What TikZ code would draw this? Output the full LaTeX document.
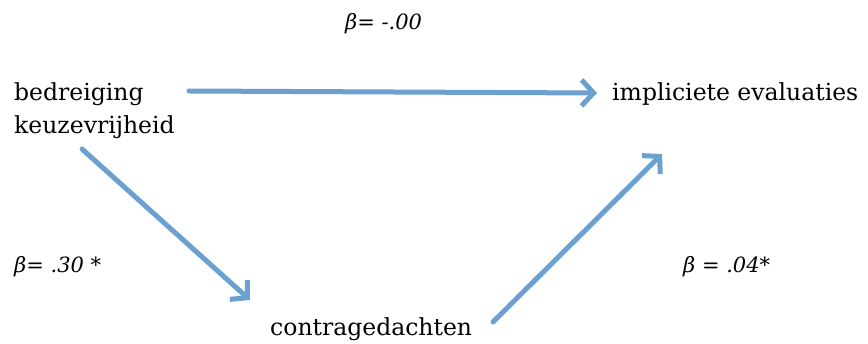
\documentclass[tikz,border=0pt]{standalone}
\usepackage{fontspec}
\setmainfont{DejaVu Serif}
\usetikzlibrary{arrows.meta}
\definecolor{arrowblue}{RGB}{108,160,206}
\tikzset{
  lbl/.style={inner sep=0pt, anchor=base west, font=\fontsize{23.5}{28}\selectfont},
  coef/.style={inner sep=0pt, anchor=base west, font=\fontsize{21}{25}\selectfont\itshape},
  conn/.style={draw=arrowblue, line width=5pt, line cap=round,
    -{Straight Barb[length=12pt, width=26pt, line width=5pt]}}
}
\begin{document}
\begin{tikzpicture}[x=1pt, y=-1pt]
\useasboundingbox (0,0) rectangle (868,344);
\node[lbl] (b1) at (14,101) {bedreiging};
\node[lbl] (b2) at (14,134) {keuzevrijheid};
\node[lbl] (ie) at (612,101) {impliciete evaluaties};
\node[lbl] (cg) at (270,336) {contragedachten};
\node[coef] (c1) at (345,30) {β= -.00};
\node[coef] (c2) at (14,273) {β= .30 *};
\node[coef] (c3) at (683,273) {β = .04*};
\coordinate (s1) at (189,91);
\coordinate (t1) at (597,93);
\coordinate (s2) at (82,149);
\coordinate (t2) at (250,300);
\coordinate (s3) at (493,322);
\coordinate (t3) at (662,154);
\draw[conn] (s1) -- (t1);
\draw[conn] (s2) -- (t2);
\draw[conn] (s3) -- (t3);
\end{tikzpicture}
\end{document}
